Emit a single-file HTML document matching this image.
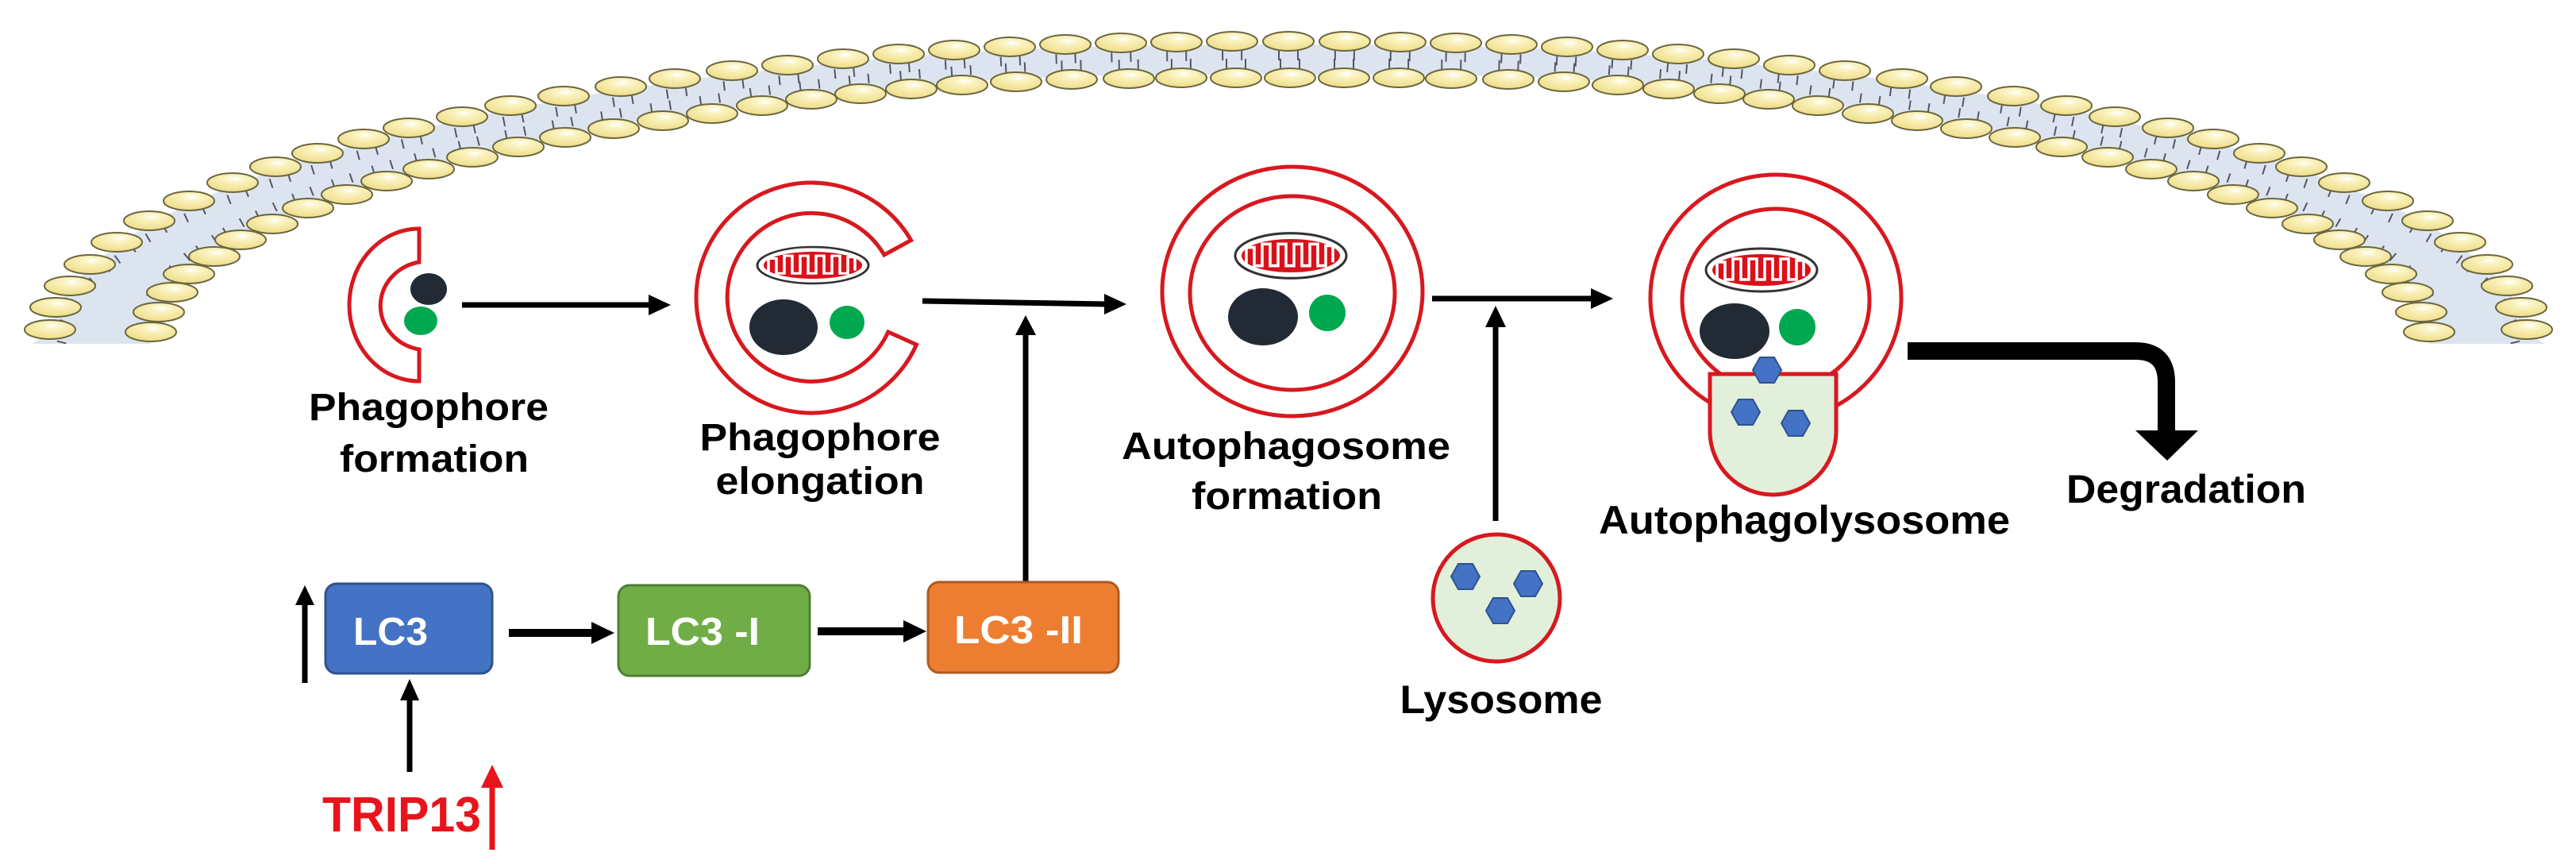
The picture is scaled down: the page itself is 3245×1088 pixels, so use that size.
<!DOCTYPE html>
<html><head><meta charset="utf-8"><style>
html,body{margin:0;padding:0;background:#fff;}
svg{display:block;}
text{font-family:"Liberation Sans",Arial,sans-serif;font-weight:bold;}
</style></head><body>
<svg id="s" width="3245" height="1088" viewBox="0 0 3245 1088" xmlns="http://www.w3.org/2000/svg">
<defs>
<radialGradient id="lg" cx="0.55" cy="0.3" r="0.6">
<stop offset="0" stop-color="#ffffff"/><stop offset="0.3" stop-color="#fbf3c2"/><stop offset="1" stop-color="#f0e191"/>
</radialGradient>
<g id="mito">
<ellipse cx="0" cy="0" rx="70" ry="27" fill="#fff" stroke="#333" stroke-width="3"/>
<ellipse cx="0" cy="0" rx="62" ry="20" fill="#d9111a"/>
<path d="M-56,10 V-10 H-46 V12 H-36 V-14 H-26 V12 H-16 V-14 H-6 V12 H4 V-14 H14 V12 H24 V-14 H34 V12 H44 V-12 H53 V8" stroke="#fff" stroke-width="3.5" fill="none"/>
</g>
<polygon id="hex" points="-18,0 -9,-16 9,-16 18,0 9,16 -9,16" fill="#4472c4" stroke="#2f528f" stroke-width="2"/>
</defs>
<rect width="3245" height="1088" fill="#fff"/>
<g id="mem"></g>

<!-- Phagophore formation -->
<path d="M528,288 A88 96 0 0 0 528,480 L528,440 A60 56 0 0 1 528,330 Z" fill="#fff" stroke="#d7191f" stroke-width="5"/>
<ellipse cx="540" cy="364" rx="23" ry="20" fill="#222a35"/>
<ellipse cx="530" cy="404" rx="21" ry="18" fill="#00a84f"/>
<text x="540" y="529" font-size="48" text-anchor="middle" textLength="302" lengthAdjust="spacingAndGlyphs">Phagophore</text>
<text x="547" y="594" font-size="48" text-anchor="middle" textLength="238" lengthAdjust="spacingAndGlyphs">formation</text>

<!-- Phagophore elongation -->
<path d="M1147.6,302.5 A145 145 0 1 0 1154.5,434 L1118.8,418 A106 106 0 1 1 1113.8,321 Z" fill="#fff" stroke="#d7191f" stroke-width="5"/>
<use href="#mito" transform="translate(1024,334) scale(1,0.85)"/>
<ellipse cx="987" cy="412" rx="43" ry="35" fill="#222a35"/>
<ellipse cx="1067" cy="406" rx="22" ry="21" fill="#00a84f"/>
<text x="1033" y="567" font-size="48" text-anchor="middle" textLength="303" lengthAdjust="spacingAndGlyphs">Phagophore</text>
<text x="1033" y="622" font-size="48" text-anchor="middle" textLength="263" lengthAdjust="spacingAndGlyphs">elongation</text>

<!-- Autophagosome -->
<ellipse cx="1628" cy="367" rx="164" ry="157" fill="#fff" stroke="#d7191f" stroke-width="5"/>
<ellipse cx="1628" cy="369" rx="129" ry="122" fill="#fff" stroke="#d7191f" stroke-width="5"/>
<use href="#mito" transform="translate(1626,322) scale(1,1.05)"/>
<ellipse cx="1591" cy="399" rx="44" ry="36" fill="#222a35"/>
<ellipse cx="1672" cy="394" rx="23" ry="23" fill="#00a84f"/>
<text x="1620" y="578" font-size="48" text-anchor="middle" textLength="414" lengthAdjust="spacingAndGlyphs">Autophagosome</text>
<text x="1621" y="641" font-size="48" text-anchor="middle" textLength="240" lengthAdjust="spacingAndGlyphs">formation</text>

<!-- Lysosome -->
<circle cx="1885" cy="753" r="80" fill="#e2efda" stroke="#d7191f" stroke-width="5"/>
<use href="#hex" transform="translate(1846,726)"/>
<use href="#hex" transform="translate(1925,735)"/>
<use href="#hex" transform="translate(1890,769)"/>
<text x="1891" y="898" font-size="50" text-anchor="middle" textLength="255" lengthAdjust="spacingAndGlyphs">Lysosome</text>

<!-- Autophagolysosome -->
<ellipse cx="2237" cy="375" rx="158" ry="155" fill="#fff" stroke="#d7191f" stroke-width="5"/>
<ellipse cx="2237" cy="378" rx="118" ry="115" fill="#fff" stroke="#d7191f" stroke-width="5"/>
<use href="#mito" transform="translate(2219,340)"/>
<ellipse cx="2185" cy="417" rx="44" ry="35" fill="#222a35"/>
<ellipse cx="2264" cy="412" rx="23" ry="23" fill="#00a84f"/>
<path d="M2154,471 L2313,471 L2313,543 A79.5 80 0 0 1 2154,543 Z" fill="#e2efda" stroke="#d7191f" stroke-width="5"/>
<use href="#hex" transform="translate(2226,466)"/>
<use href="#hex" transform="translate(2199,519)"/>
<use href="#hex" transform="translate(2262,533)"/>
<text x="2273" y="672" font-size="50" text-anchor="middle" textLength="518" lengthAdjust="spacingAndGlyphs">Autophagolysosome</text>

<!-- Degradation -->
<path d="M2403,442 H2690 Q2729,442 2729,481 V548" fill="none" stroke="#000" stroke-width="22"/>
<polygon points="2690,542 2769,542 2730,580" fill="#000"/>
<text x="2754" y="633" font-size="50" text-anchor="middle" textLength="302" lengthAdjust="spacingAndGlyphs">Degradation</text>

<!-- arrows -->
<g stroke="#000" stroke-width="7" fill="none">
<line x1="582" y1="384" x2="820" y2="384"/>
<line x1="1162" y1="379" x2="1394" y2="383"/>
<line x1="1292" y1="733" x2="1292" y2="420"/>
<line x1="1804" y1="376" x2="2006" y2="376"/>
<line x1="1884" y1="656" x2="1884" y2="410"/>
<line x1="384" y1="860" x2="384" y2="760"/>
<line x1="516" y1="972" x2="516" y2="880"/>
<line x1="641" y1="797" x2="748" y2="797" stroke-width="10"/>
<line x1="1030" y1="795" x2="1140" y2="795" stroke-width="10"/>
</g>
<g fill="#000">
<polygon points="817,371 845,384 817,397"/>
<polygon points="1391,370 1419,383 1391,396"/>
<polygon points="1279,422 1292,397 1305,422"/>
<polygon points="2004,363 2032,376 2004,389"/>
<polygon points="1871,412 1884,385 1897,412"/>
<polygon points="372,762 384,737 396,762"/>
<polygon points="504,882 516,855 528,882"/>
<polygon points="745,783 774,797 745,811"/>
<polygon points="1138,781 1167,795 1138,809"/>
</g>
<line x1="620" y1="1070" x2="620" y2="990" stroke="#e8141c" stroke-width="7"/>
<polygon points="606,992 620,963 634,992" fill="#e8141c"/>

<!-- LC3 boxes -->
<rect x="410" y="735" width="210" height="113" rx="14" fill="#4472c4" stroke="#2f528f" stroke-width="3"/>
<rect x="779" y="737" width="241" height="114" rx="14" fill="#70ad47" stroke="#507e32" stroke-width="3"/>
<rect x="1169" y="733" width="240" height="114" rx="14" fill="#ed7d31" stroke="#ae5a21" stroke-width="3"/>
<text x="492" y="812" font-size="49" fill="#fff" text-anchor="middle" textLength="94" lengthAdjust="spacingAndGlyphs">LC3</text>
<text x="885" y="812" font-size="49" fill="#fff" text-anchor="middle" textLength="144" lengthAdjust="spacingAndGlyphs">LC3 -I</text>
<text x="1283" y="810" font-size="49" fill="#fff" text-anchor="middle" textLength="162" lengthAdjust="spacingAndGlyphs">LC3 -II</text>
<text x="506" y="1047" font-size="62" fill="#e8141c" text-anchor="middle" textLength="200" lengthAdjust="spacingAndGlyphs">TRIP13</text>
</svg>
<script>
(function(){
var NS="http://www.w3.org/2000/svg",g=document.getElementById("mem");
function el(n,a){var e=document.createElementNS(NS,n);for(var k in a)e.setAttribute(k,a[k]);g.appendChild(e);return e;}
var OL=[[63,415],[70,387],[88,360],[113,333],[147,305],[188,278],[238,253],[293,230],[347,210],[400,193],[458,175],[515,161],[582,147],[643,133],[710,121],[782,109],[850,99],[922,89],[992,82],[1062,74],[1132,68],[1202,63],[1272,59],[1342,56],[1412,54],[1482,53],[1552,52]];
var IL=[[190,418],[200,393],[217,368],[238,345],[270,323],[303,302],[343,282],[388,262],[437,245],[487,228],[540,213],[595,198],[653,185],[712,173],[773,162],[835,152],[897,143],[960,133],[1022,125],[1084,118],[1148,112],[1212,107],[1280,103],[1350,100],[1422,99],[1488,98],[1557,98]];
function full(L,cx,ay){var r=L.slice();r.push([cx,ay]);for(var i=L.length-1;i>=0;i--)r.push([2*cx-L[i][0],L[i][1]]);return r;}
var O=full(OL,1623,52), I=full(IL,1625,98);
var pts=[[40,433]];O.forEach(function(p){pts.push([p[0],p[1]+4]);});pts.push([3206,433]);
var band="M"+pts.map(function(p){return p.join(",");}).join(" L");
var ip=I.slice().reverse();band+=" L"+[3060,433].join(",")+" L"+ip.map(function(p){return p[0]+","+(p[1]-4);}).join(" L")+" L"+[190,433].join(",")+" Z";
el("path",{d:band,fill:"#dce5ef"});
function tails(L,dir){
 for(var i=0;i<L.length;i++){
  var a=L[Math.max(0,i-1)],b=L[Math.min(L.length-1,i+1)];
  var tx=b[0]-a[0],ty=b[1]-a[1],m=Math.hypot(tx,ty)||1;tx/=m;ty/=m;
  var nx=-ty*dir,ny=tx*dir;
  if(ny*dir<0){nx=-nx;ny=-ny;}
  for(var s=-1;s<=1;s+=2){
   var x=L[i][0]+s*12*tx,y=L[i][1]+s*12*ty;
   el("line",{x1:x+nx*12,y1:y+ny*12,x2:x+nx*24,y2:y+ny*24,stroke:"#556","stroke-width":"2"});
  }
 }
}
tails(O,1);tails(I,-1);
function heads(L){L.forEach(function(p){el("ellipse",{cx:p[0],cy:p[1],rx:32,ry:12,fill:"url(#lg)",stroke:"#6b6640","stroke-width":"2"});});}
heads(O);heads(I);
})();
</script>
</body></html>
